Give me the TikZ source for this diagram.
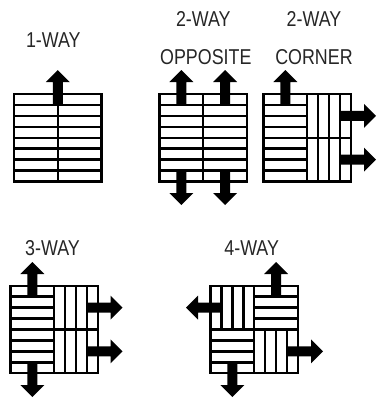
\documentclass[tikz,border=0pt]{standalone}
\usepackage{fontspec}
\setmainfont{Liberation Sans}[FakeStretch=0.83]
\tikzset{
  plank/.style={draw=black,line width=2.4pt},
  lbl/.style={inner sep=0pt,font=\fontsize{21.5}{25}\selectfont,text=black!85},
  arrowfill/.style={fill=black}
}
% horizontal planks: x y w h n
\newcommand\hpl[5]{%
  \draw[plank] (#1,#2) rectangle ++(#3,#4);
  \foreach \k in {1,...,#5} \draw[plank] (#1,{#2+\k*#4/#5}) -- ++(#3,0);
}
% vertical planks: x y w h n
\newcommand\vpl[5]{%
  \draw[plank] (#1,#2) rectangle ++(#3,#4);
  \foreach \k in {1,...,#5} \draw[plank] ({#1+\k*#3/#5},#2) -- ++(0,#4);
}
% vertical arrow: x, start y, tip y
\newcommand\arrv[3]{%
  \pgfmathsetmacro\hb{#3-12*sign(#3-#2)}%
  \fill[arrowfill] ({#1-5},#2) -- ({#1-5},\hb) -- ({#1-12},\hb) -- (#1,#3)
    -- ({#1+12},\hb) -- ({#1+5},\hb) -- ({#1+5},#2) -- cycle;
}
% horizontal arrow: y, start x, tip x
\newcommand\arrh[3]{%
  \pgfmathsetmacro\hb{#3-12*sign(#3-#2)}%
  \fill[arrowfill] (#2,{#1-5}) -- (\hb,{#1-5}) -- (\hb,{#1-12}) -- (#3,#1)
    -- (\hb,{#1+12}) -- (\hb,{#1+5}) -- (#2,{#1+5}) -- cycle;
}
\begin{document}
\begin{tikzpicture}[x=1pt,y=-1pt]
\useasboundingbox (0,0) rectangle (377,399);
% labels
\node[lbl] (l1) at (53.3,40) {1-WAY};
\node[lbl] (l2a) at (203.3,19) {2-WAY};
\node[lbl] (l2b) at (205.8,57) {OPPOSITE};
\node[lbl] (l3a) at (314,19) {2-WAY};
\node[lbl] (l3b) at (314,57) {CORNER};
\node[lbl] (l4) at (52.5,248.3) {3-WAY};
\node[lbl] (l5) at (251.7,248.3) {4-WAY};
% 1-WAY
\hpl{14}{94}{43.75}{87.5}{8}
\hpl{57.75}{94}{43.75}{87.5}{8}
\arrv{57.75}{104.94}{70}
% 2-WAY opposite
\hpl{159.5}{94}{43.75}{87.5}{8}
\hpl{203.25}{94}{43.75}{87.5}{8}
\arrv{181.4}{104.94}{70}
\arrv{225.1}{104.94}{70}
\arrv{181.4}{170.56}{205}
\arrv{225.1}{170.56}{205}
% 2-WAY corner
\hpl{263.5}{94}{43.75}{87.5}{8}
\vpl{307.25}{94}{43.75}{43.75}{4}
\vpl{307.25}{137.75}{43.75}{43.75}{4}
\arrv{285.4}{104.94}{70}
\arrh{115.9}{340.06}{376}
\arrh{159.6}{340.06}{376}
% 3-WAY
\hpl{10.5}{285.75}{43.75}{87.5}{8}
\vpl{54.25}{285.75}{43.75}{43.75}{4}
\vpl{54.25}{329.5}{43.75}{43.75}{4}
\arrv{32.4}{296.69}{262}
\arrv{32.4}{362.31}{397}
\arrh{307.6}{87.06}{122.5}
\arrh{351.4}{87.06}{122.5}
% 4-WAY
\vpl{210.5}{285.75}{43.75}{43.75}{4}
\hpl{254.25}{285.75}{43.75}{43.75}{4}
\hpl{210.5}{329.5}{43.75}{43.75}{4}
\vpl{254.25}{329.5}{43.75}{43.75}{4}
\arrh{307.6}{221.44}{186}
\arrv{276.1}{296.69}{262}
\arrv{232.4}{362.31}{397}
\arrh{351.4}{287.06}{323}
\end{tikzpicture}
\end{document}
